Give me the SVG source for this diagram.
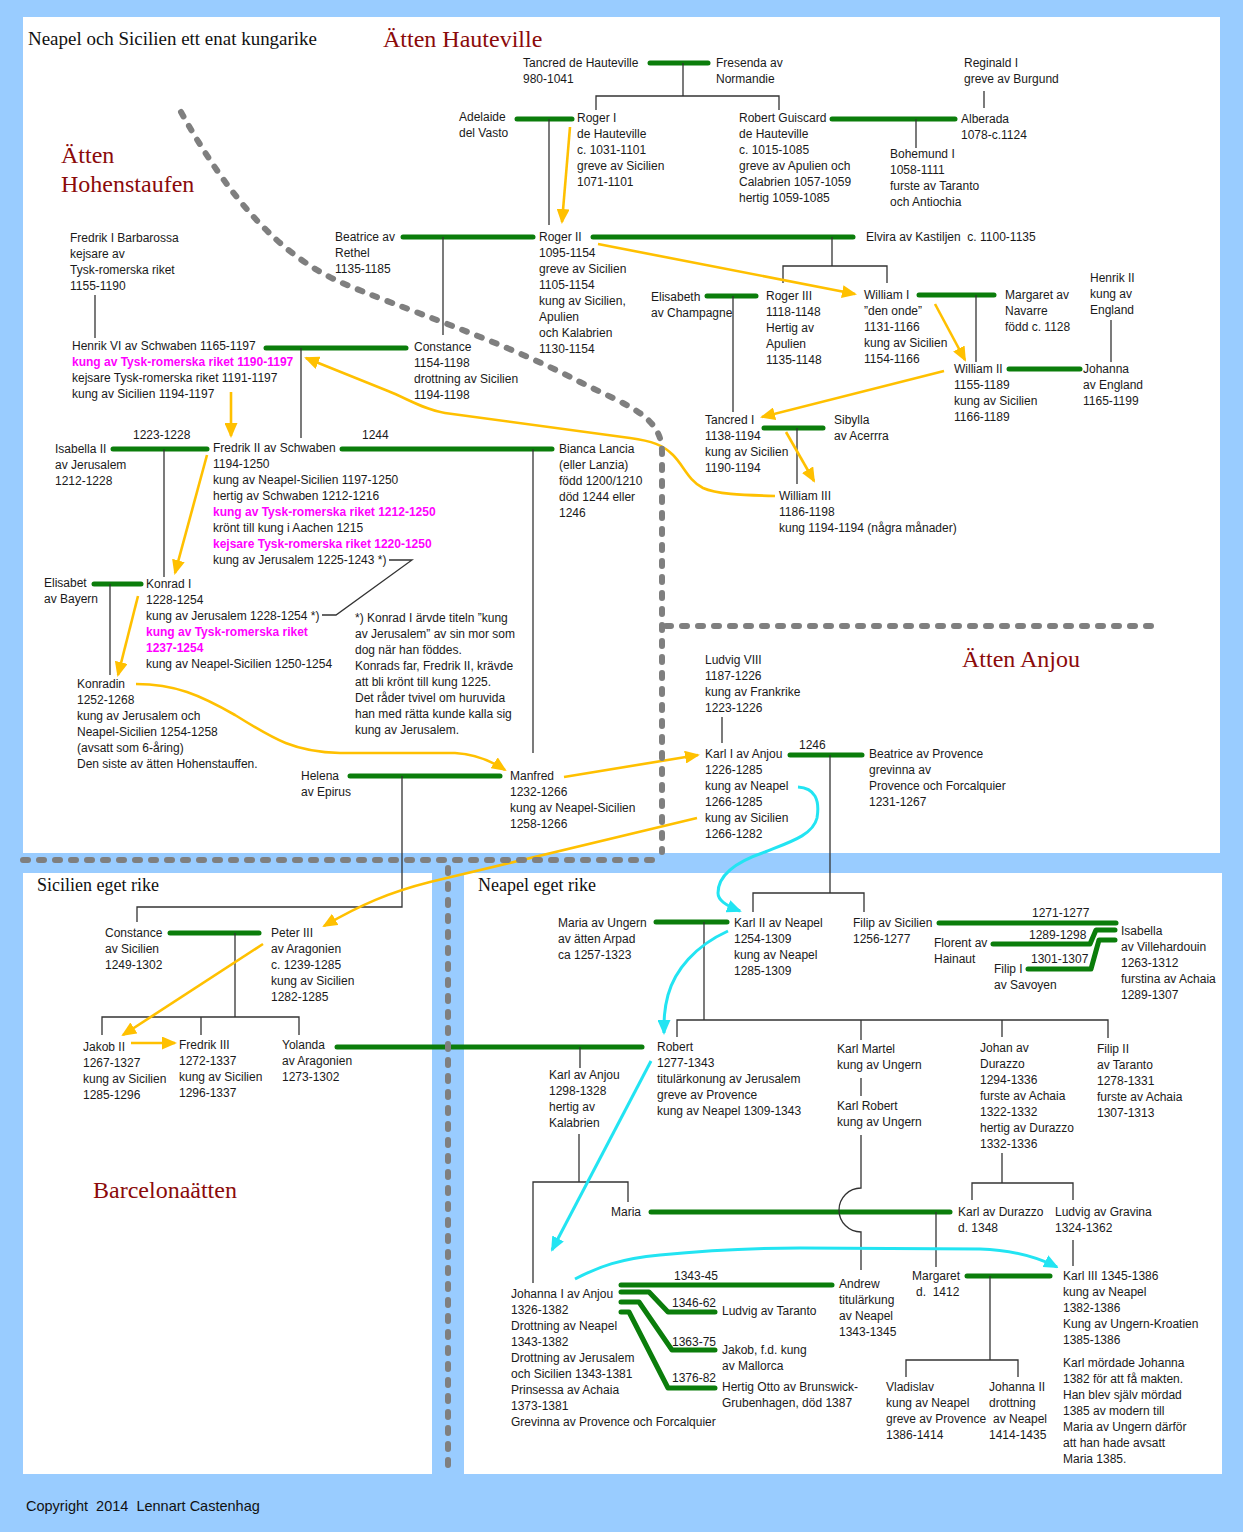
<svg xmlns="http://www.w3.org/2000/svg" width="1243" height="1532" viewBox="0 0 1243 1532">
<style>
.t{font-family:"Liberation Sans",Arial,sans-serif;font-size:12px;fill:#1a1a1a}
.m{fill:#ff00ff;font-weight:bold}
.h{font-family:"Liberation Serif","Times New Roman",serif;font-size:24px;fill:#8b0a0a}
.s{font-family:"Liberation Serif","Times New Roman",serif;font-size:18px;fill:#111}
.g{stroke:#0b7d0b;stroke-width:5;stroke-linecap:round;stroke-linejoin:round;fill:none}
.k{stroke:#333;stroke-width:1.3;fill:none}
.y{stroke:#ffc000;stroke-width:2.6;fill:none;marker-end:url(#ay)}
.c{stroke:#22e4f2;stroke-width:3;fill:none;marker-end:url(#ac)}
.d{stroke:#7f7f7f;stroke-width:6;stroke-linecap:round;stroke-dasharray:5 11;fill:none}
</style>
<defs>
<marker id="ay" viewBox="0 0 15 13" markerUnits="userSpaceOnUse" markerWidth="15" markerHeight="13" refX="13" refY="6.5" orient="auto"><path d="M0,0 L15,6.5 L0,13 z" fill="#ffc000"/></marker>
<marker id="ac" viewBox="0 0 15 13" markerUnits="userSpaceOnUse" markerWidth="15" markerHeight="13" refX="13" refY="6.5" orient="auto"><path d="M0,0 L15,6.5 L0,13 z" fill="#22e4f2"/></marker>
</defs>
<rect width="1243" height="1532" fill="#99ccff"/>
<rect x="23" y="17" width="1197" height="836" fill="#fff"/>
<rect x="23" y="873" width="409" height="601" fill="#fff"/>
<rect x="464" y="873" width="758" height="601" fill="#fff"/>

<g id="titles">
<text class="s" x="28" y="45" font-size="19" textLength="289" lengthAdjust="spacingAndGlyphs">Neapel och Sicilien ett enat kungarike</text>
<text class="h" x="383" y="47">Ätten Hauteville</text>
<text class="h" x="61" y="163">Ätten</text>
<text class="h" x="61" y="192">Hohenstaufen</text>
<text class="h" x="962" y="667">Ätten Anjou</text>
<text class="h" x="93" y="1198">Barcelonaätten</text>
<text class="s" x="37" y="891">Sicilien eget rike</text>
<text class="s" x="478" y="891">Neapel eget rike</text>
<text x="26" y="1511" xml:space="preserve" font-family="Liberation Sans, Arial, sans-serif" font-size="14.5" fill="#111">Copyright  2014  Lennart Castenhag</text>
</g>

<g id="connectors">
<g id="marriages">
<line class="g" x1="650" y1="63" x2="708" y2="63"/>
<line class="g" x1="517" y1="119" x2="572" y2="119"/>
<line class="g" x1="832" y1="119" x2="955" y2="119"/>
<line class="g" x1="403" y1="237" x2="533" y2="237"/>
<line class="g" x1="593" y1="237" x2="853" y2="237"/>
<line class="g" x1="707" y1="296" x2="756" y2="296"/>
<line class="g" x1="919" y1="295" x2="994" y2="295"/>
<line class="g" x1="1009" y1="369" x2="1080" y2="369"/>
<line class="g" x1="764" y1="428" x2="823" y2="428"/>
<line class="g" x1="266" y1="348" x2="406" y2="348"/>
<line class="g" x1="113" y1="449" x2="207" y2="449"/>
<line class="g" x1="342" y1="449" x2="552" y2="449"/>
<line class="g" x1="94" y1="584" x2="141" y2="584"/>
<line class="g" x1="350" y1="776" x2="500" y2="776"/>
<line class="g" x1="790" y1="755" x2="862" y2="755"/>
<line class="g" x1="656" y1="922" x2="727" y2="922"/>
<line class="g" x1="939" y1="923" x2="1116" y2="923"/>
<polyline class="g" points="993,944 1090,944 1096,930 1115,930"/>
<polyline class="g" points="1028,969 1091,969 1099,940 1115,940"/>
<line class="g" x1="170" y1="933" x2="259" y2="933"/>
<line class="g" x1="337" y1="1047" x2="642" y2="1047"/>
<line class="g" x1="651" y1="1212" x2="950" y2="1212"/>
<line class="g" x1="967" y1="1276" x2="1050" y2="1276"/>
<line class="g" x1="621" y1="1285" x2="832" y2="1285"/>
<polyline class="g" points="621,1292 649,1292 668,1312 715,1312"/>
<polyline class="g" points="621,1302 639,1302 672,1350 715,1350"/>
<polyline class="g" points="621,1312 629,1312 668,1388 715,1388"/>
</g>
<g id="descent">
<polyline class="k" points="683,63 683,96"/>
<polyline class="k" points="596,110 596,96 779,96 779,110"/>
<line class="k" x1="549" y1="119" x2="549" y2="225"/>
<line class="k" x1="984" y1="91" x2="984" y2="108"/>
<line class="k" x1="916" y1="119" x2="916" y2="148"/>
<line class="k" x1="443" y1="237" x2="443" y2="335"/>
<line class="k" x1="832" y1="237" x2="832" y2="266"/>
<polyline class="k" points="783,283 783,266 887,266 887,283"/>
<line class="k" x1="733" y1="296" x2="733" y2="412"/>
<line class="k" x1="976" y1="295" x2="976" y2="362"/>
<line class="k" x1="1111" y1="320" x2="1111" y2="362"/>
<line class="k" x1="797" y1="428" x2="797" y2="484"/>
<line class="k" x1="95" y1="295" x2="95" y2="338"/>
<line class="k" x1="301" y1="348" x2="301" y2="438"/>
<line class="k" x1="164" y1="449" x2="164" y2="577"/>
<line class="k" x1="533" y1="449" x2="533" y2="753"/>
<polyline class="k" points="389,560 412,560 336,615 322,615"/>
<line class="k" x1="110" y1="584" x2="110" y2="675"/>
<polyline class="k" points="402,776 402,907 137,907 137,922"/>
<line class="k" x1="722" y1="717" x2="722" y2="743"/>
<line class="k" x1="830" y1="755" x2="830" y2="893"/>
<polyline class="k" points="753,912 753,893 864,893 864,912"/>
<line class="k" x1="704" y1="922" x2="704" y2="1020"/>
<polyline class="k" points="677,1037 677,1020 1108,1020 1108,1038"/>
<line class="k" x1="861" y1="1020" x2="861" y2="1040"/>
<line class="k" x1="1002" y1="1020" x2="1002" y2="1037"/>
<line class="k" x1="861" y1="1078" x2="861" y2="1096"/>
<path class="k" d="M861 1135 V1188 A22 22 0 0 0 861 1232 V1270"/>
<line class="k" x1="1002" y1="1153" x2="1002" y2="1183"/>
<polyline class="k" points="972,1200 972,1183 1073,1183 1073,1200"/>
<line class="k" x1="235" y1="933" x2="235" y2="1017"/>
<polyline class="k" points="102,1035 102,1017 299,1017 299,1035"/>
<line class="k" x1="201" y1="1017" x2="201" y2="1035"/>
<line class="k" x1="580" y1="1047" x2="580" y2="1068"/>
<line class="k" x1="579" y1="1134" x2="579" y2="1182"/>
<polyline class="k" points="533,1283 533,1182 628,1182 628,1202"/>
<line class="k" x1="936" y1="1212" x2="936" y2="1267"/>
<line class="k" x1="1073" y1="1240" x2="1073" y2="1266"/>
<line class="k" x1="990" y1="1276" x2="990" y2="1360"/>
<polyline class="k" points="906,1377 906,1360 1018,1360 1018,1377"/>
</g>
<g id="labels" class="t">
<text x="133" y="439">1223-1228</text>
<text x="362" y="439">1244</text>
<text x="799" y="749">1246</text>
<text x="1032" y="917">1271-1277</text>
<text x="1029" y="939">1289-1298</text>
<text x="1031" y="963">1301-1307</text>
<text x="674" y="1280">1343-45</text>
<text x="672" y="1307">1346-62</text>
<text x="672" y="1346">1363-75</text>
<text x="672" y="1382">1376-82</text>
</g>
<g id="succession">
<line class="y" x1="570" y1="127" x2="562" y2="222"/>
<line class="y" x1="598" y1="244" x2="855" y2="294"/>
<line class="y" x1="935" y1="304" x2="965" y2="360"/>
<line class="y" x1="944" y1="371" x2="762" y2="417"/>
<line class="y" x1="786" y1="432" x2="814" y2="481"/>
<path class="y" d="M775 496 C740 495 716 494 703 488 C688 480 684 466 673 455 C663 445 652 441 630 438 L445 413 C425 410 408 399 388 391 L306 358"/>
<line class="y" x1="231" y1="392" x2="231" y2="436"/>
<line class="y" x1="207" y1="455" x2="175" y2="573"/>
<line class="y" x1="138" y1="596" x2="118" y2="675"/>
<path class="y" d="M136 684 C175 684 200 695 235 715 C275 740 295 752 340 753 L455 753 C475 754 490 760 505 770"/>
<line class="y" x1="564" y1="777" x2="698" y2="755"/>
<path class="y" d="M697 818 L430 882 C390 892 360 905 324 926"/>
<line class="y" x1="263" y1="944" x2="123" y2="1035"/>
<line class="y" x1="131" y1="1043" x2="175" y2="1043"/>
<path class="c" d="M798 787 C815 788 820 800 817 818 C813 835 790 842 765 852 C735 862 718 875 718 893 C718 900 725 905 740 911"/>
<path class="c" d="M728 931 C695 946 675 970 668 995 C664 1010 664 1020 664 1033"/>
<line class="c" x1="651" y1="1061" x2="552" y2="1250"/>
<path class="c" d="M575 1279 C600 1266 620 1259 660 1255 C700 1251 740 1248 800 1248 L980 1249 C1010 1250 1035 1256 1057 1267"/>
</g>
<g id="borders">
<path class="d" d="M181 112 C230 200 280 255 340 282 C400 308 500 340 580 382 C625 405 662 415 662 452 L662 852"/>
<line class="d" x1="666" y1="626" x2="1157" y2="626"/>
<line class="d" x1="23" y1="860" x2="662" y2="860"/>
<line class="d" x1="448" y1="868" x2="448" y2="1467"/>
</g>
</g>

<g id="n-tancred"><text class="t" x="523" y="67">Tancred de Hauteville<tspan x="523" dy="16">980-1041</tspan></text></g>
<g id="n-fresenda"><text class="t" x="716" y="67">Fresenda av<tspan x="716" dy="16">Normandie</tspan></text></g>
<g id="n-adelaide"><text class="t" x="459" y="121">Adelaide<tspan x="459" dy="16">del Vasto</tspan></text></g>
<g id="n-roger1"><text class="t" x="577" y="122">Roger I<tspan x="577" dy="16">de Hauteville</tspan><tspan x="577" dy="16">c. 1031-1101</tspan><tspan x="577" dy="16">greve av Sicilien</tspan><tspan x="577" dy="16">1071-1101</tspan></text></g>
<g id="n-robert-guiscard"><text class="t" x="739" y="122">Robert Guiscard<tspan x="739" dy="16">de Hauteville</tspan><tspan x="739" dy="16">c. 1015-1085</tspan><tspan x="739" dy="16">greve av Apulien och</tspan><tspan x="739" dy="16">Calabrien 1057-1059</tspan><tspan x="739" dy="16">hertig 1059-1085</tspan></text></g>
<g id="n-alberada"><text class="t" x="961" y="123">Alberada<tspan x="961" dy="16">1078-c.1124</tspan></text></g>
<g id="n-reginald"><text class="t" x="964" y="67">Reginald I<tspan x="964" dy="16">greve av Burgund</tspan></text></g>
<g id="n-bohemund"><text class="t" x="890" y="158">Bohemund I<tspan x="890" dy="16">1058-1111</tspan><tspan x="890" dy="16">furste av Taranto</tspan><tspan x="890" dy="16">och Antiochia</tspan></text></g>
<g id="n-roger2"><text class="t" x="539" y="241">Roger II<tspan x="539" dy="16">1095-1154</tspan><tspan x="539" dy="16">greve av Sicilien</tspan><tspan x="539" dy="16">1105-1154</tspan><tspan x="539" dy="16">kung av Sicilien,</tspan><tspan x="539" dy="16">Apulien</tspan><tspan x="539" dy="16">och Kalabrien</tspan><tspan x="539" dy="16">1130-1154</tspan></text></g>
<g id="n-beatrice-rethel"><text class="t" x="335" y="241">Beatrice av<tspan x="335" dy="16">Rethel</tspan><tspan x="335" dy="16">1135-1185</tspan></text></g>
<g id="n-elvira"><text class="t" x="866" y="241" xml:space="preserve">Elvira av Kastiljen  c. 1100-1135</text></g>
<g id="n-elisabeth"><text class="t" x="651" y="301">Elisabeth<tspan x="651" dy="16">av Champagne</tspan></text></g>
<g id="n-roger3"><text class="t" x="766" y="300">Roger III<tspan x="766" dy="16">1118-1148</tspan><tspan x="766" dy="16">Hertig av</tspan><tspan x="766" dy="16">Apulien</tspan><tspan x="766" dy="16">1135-1148</tspan></text></g>
<g id="n-william1"><text class="t" x="864" y="299">William I<tspan x="864" dy="16">”den onde”</tspan><tspan x="864" dy="16">1131-1166</tspan><tspan x="864" dy="16">kung av Sicilien</tspan><tspan x="864" dy="16">1154-1166</tspan></text></g>
<g id="n-margaret-navarre"><text class="t" x="1005" y="299">Margaret av<tspan x="1005" dy="16">Navarre</tspan><tspan x="1005" dy="16">född c. 1128</tspan></text></g>
<g id="n-henrik2"><text class="t" x="1090" y="282">Henrik II<tspan x="1090" dy="16">kung av</tspan><tspan x="1090" dy="16">England</tspan></text></g>
<g id="n-william2"><text class="t" x="954" y="373">William II<tspan x="954" dy="16">1155-1189</tspan><tspan x="954" dy="16">kung av Sicilien</tspan><tspan x="954" dy="16">1166-1189</tspan></text></g>
<g id="n-johanna-england"><text class="t" x="1083" y="373">Johanna<tspan x="1083" dy="16">av England</tspan><tspan x="1083" dy="16">1165-1199</tspan></text></g>
<g id="n-tancred1"><text class="t" x="705" y="424">Tancred I<tspan x="705" dy="16">1138-1194</tspan><tspan x="705" dy="16">kung av Sicilien</tspan><tspan x="705" dy="16">1190-1194</tspan></text></g>
<g id="n-sibylla"><text class="t" x="834" y="424">Sibylla<tspan x="834" dy="16">av Acerrra</tspan></text></g>
<g id="n-william3"><text class="t" x="779" y="500">William III<tspan x="779" dy="16">1186-1198</tspan><tspan x="779" dy="16">kung 1194-1194 (några månader)</tspan></text></g>
<g id="n-barbarossa"><text class="t" x="70" y="242">Fredrik I Barbarossa<tspan x="70" dy="16">kejsare av</tspan><tspan x="70" dy="16">Tysk-romerska riket</tspan><tspan x="70" dy="16">1155-1190</tspan></text></g>
<g id="n-henrik6"><text class="t" x="72" y="350">Henrik VI av Schwaben 1165-1197<tspan x="72" dy="16" class="m">kung av Tysk-romerska riket 1190-1197</tspan><tspan x="72" dy="16">kejsare Tysk-romerska riket 1191-1197</tspan><tspan x="72" dy="16">kung av Sicilien 1194-1197</tspan></text></g>
<g id="n-constance"><text class="t" x="414" y="351">Constance<tspan x="414" dy="16">1154-1198</tspan><tspan x="414" dy="16">drottning av Sicilien</tspan><tspan x="414" dy="16">1194-1198</tspan></text></g>
<g id="n-isabella2"><text class="t" x="55" y="453">Isabella II<tspan x="55" dy="16">av Jerusalem</tspan><tspan x="55" dy="16">1212-1228</tspan></text></g>
<g id="n-fredrik2"><text class="t" x="213" y="452">Fredrik II av Schwaben<tspan x="213" dy="16">1194-1250</tspan><tspan x="213" dy="16">kung av Neapel-Sicilien 1197-1250</tspan><tspan x="213" dy="16">hertig av Schwaben 1212-1216</tspan><tspan x="213" dy="16" class="m">kung av Tysk-romerska riket 1212-1250</tspan><tspan x="213" dy="16">krönt till kung i Aachen 1215</tspan><tspan x="213" dy="16" class="m">kejsare Tysk-romerska riket 1220-1250</tspan><tspan x="213" dy="16">kung av Jerusalem 1225-1243 *)</tspan></text></g>
<g id="n-bianca"><text class="t" x="559" y="453">Bianca Lancia<tspan x="559" dy="16">(eller Lanzia)</tspan><tspan x="559" dy="16">född 1200/1210</tspan><tspan x="559" dy="16">död 1244 eller</tspan><tspan x="559" dy="16">1246</tspan></text></g>
<g id="n-elisabet-bayern"><text class="t" x="44" y="587">Elisabet<tspan x="44" dy="16">av Bayern</tspan></text></g>
<g id="n-konrad1"><text class="t" x="146" y="588">Konrad I<tspan x="146" dy="16">1228-1254</tspan><tspan x="146" dy="16">kung av Jerusalem 1228-1254 *)</tspan><tspan x="146" dy="16" class="m">kung av Tysk-romerska riket</tspan><tspan x="146" dy="16" class="m">1237-1254</tspan><tspan x="146" dy="16">kung av Neapel-Sicilien 1250-1254</tspan></text></g>
<g id="n-footnote"><text class="t" x="355" y="622">*) Konrad I ärvde titeln ”kung<tspan x="355" dy="16">av Jerusalem” av sin mor som</tspan><tspan x="355" dy="16">dog när han föddes.</tspan><tspan x="355" dy="16">Konrads far, Fredrik II, krävde</tspan><tspan x="355" dy="16">att bli krönt till kung 1225.</tspan><tspan x="355" dy="16">Det råder tvivel om huruvida</tspan><tspan x="355" dy="16">han med rätta kunde kalla sig</tspan><tspan x="355" dy="16">kung av Jerusalem.</tspan></text></g>
<g id="n-konradin"><text class="t" x="77" y="688">Konradin<tspan x="77" dy="16">1252-1268</tspan><tspan x="77" dy="16">kung av Jerusalem och</tspan><tspan x="77" dy="16">Neapel-Sicilien 1254-1258</tspan><tspan x="77" dy="16">(avsatt som 6-åring)</tspan><tspan x="77" dy="16">Den siste av ätten Hohenstauffen.</tspan></text></g>
<g id="n-helena"><text class="t" x="301" y="780">Helena<tspan x="301" dy="16">av Epirus</tspan></text></g>
<g id="n-manfred"><text class="t" x="510" y="780">Manfred<tspan x="510" dy="16">1232-1266</tspan><tspan x="510" dy="16">kung av Neapel-Sicilien</tspan><tspan x="510" dy="16">1258-1266</tspan></text></g>
<g id="n-ludvig8"><text class="t" x="705" y="664">Ludvig VIII<tspan x="705" dy="16">1187-1226</tspan><tspan x="705" dy="16">kung av Frankrike</tspan><tspan x="705" dy="16">1223-1226</tspan></text></g>
<g id="n-karl1"><text class="t" x="705" y="758">Karl I av Anjou<tspan x="705" dy="16">1226-1285</tspan><tspan x="705" dy="16">kung av Neapel</tspan><tspan x="705" dy="16">1266-1285</tspan><tspan x="705" dy="16">kung av Sicilien</tspan><tspan x="705" dy="16">1266-1282</tspan></text></g>
<g id="n-beatrice-provence"><text class="t" x="869" y="758">Beatrice av Provence<tspan x="869" dy="16">grevinna av</tspan><tspan x="869" dy="16">Provence och Forcalquier</tspan><tspan x="869" dy="16">1231-1267</tspan></text></g>
<g id="n-constance-sicilien"><text class="t" x="105" y="937">Constance<tspan x="105" dy="16">av Sicilien</tspan><tspan x="105" dy="16">1249-1302</tspan></text></g>
<g id="n-peter3"><text class="t" x="271" y="937">Peter III<tspan x="271" dy="16">av Aragonien</tspan><tspan x="271" dy="16">c. 1239-1285</tspan><tspan x="271" dy="16">kung av Sicilien</tspan><tspan x="271" dy="16">1282-1285</tspan></text></g>
<g id="n-jakob2"><text class="t" x="83" y="1051">Jakob II<tspan x="83" dy="16">1267-1327</tspan><tspan x="83" dy="16">kung av Sicilien</tspan><tspan x="83" dy="16">1285-1296</tspan></text></g>
<g id="n-fredrik3"><text class="t" x="179" y="1049">Fredrik III<tspan x="179" dy="16">1272-1337</tspan><tspan x="179" dy="16">kung av Sicilien</tspan><tspan x="179" dy="16">1296-1337</tspan></text></g>
<g id="n-yolanda"><text class="t" x="282" y="1049">Yolanda<tspan x="282" dy="16">av Aragonien</tspan><tspan x="282" dy="16">1273-1302</tspan></text></g>
<g id="n-maria-ungern"><text class="t" x="558" y="927">Maria av Ungern<tspan x="558" dy="16">av ätten Arpad</tspan><tspan x="558" dy="16">ca 1257-1323</tspan></text></g>
<g id="n-karl2"><text class="t" x="734" y="927">Karl II av Neapel<tspan x="734" dy="16">1254-1309</tspan><tspan x="734" dy="16">kung av Neapel</tspan><tspan x="734" dy="16">1285-1309</tspan></text></g>
<g id="n-filip-sicilien"><text class="t" x="853" y="927">Filip av Sicilien<tspan x="853" dy="16">1256-1277</tspan></text></g>
<g id="n-florent"><text class="t" x="934" y="947">Florent av<tspan x="934" dy="16">Hainaut</tspan></text></g>
<g id="n-filip1"><text class="t" x="994" y="973">Filip I<tspan x="994" dy="16">av Savoyen</tspan></text></g>
<g id="n-isabella-villehardouin"><text class="t" x="1121" y="935">Isabella<tspan x="1121" dy="16">av Villehardouin</tspan><tspan x="1121" dy="16">1263-1312</tspan><tspan x="1121" dy="16">furstina av Achaia</tspan><tspan x="1121" dy="16">1289-1307</tspan></text></g>
<g id="n-robert"><text class="t" x="657" y="1051">Robert<tspan x="657" dy="16">1277-1343</tspan><tspan x="657" dy="16">titulärkonung av Jerusalem</tspan><tspan x="657" dy="16">greve av Provence</tspan><tspan x="657" dy="16">kung av Neapel 1309-1343</tspan></text></g>
<g id="n-karl-martel"><text class="t" x="837" y="1053">Karl Martel<tspan x="837" dy="16">kung av Ungern</tspan></text></g>
<g id="n-karl-robert"><text class="t" x="837" y="1110">Karl Robert<tspan x="837" dy="16">kung av Ungern</tspan></text></g>
<g id="n-johan-durazzo"><text class="t" x="980" y="1052">Johan av<tspan x="980" dy="16">Durazzo</tspan><tspan x="980" dy="16">1294-1336</tspan><tspan x="980" dy="16">furste av Achaia</tspan><tspan x="980" dy="16">1322-1332</tspan><tspan x="980" dy="16">hertig av Durazzo</tspan><tspan x="980" dy="16">1332-1336</tspan></text></g>
<g id="n-filip2"><text class="t" x="1097" y="1053">Filip II<tspan x="1097" dy="16">av Taranto</tspan><tspan x="1097" dy="16">1278-1331</tspan><tspan x="1097" dy="16">furste av Achaia</tspan><tspan x="1097" dy="16">1307-1313</tspan></text></g>
<g id="n-karl-anjou"><text class="t" x="549" y="1079">Karl av Anjou<tspan x="549" dy="16">1298-1328</tspan><tspan x="549" dy="16">hertig av</tspan><tspan x="549" dy="16">Kalabrien</tspan></text></g>
<g id="n-maria"><text class="t" x="611" y="1216">Maria</text></g>
<g id="n-karl-durazzo"><text class="t" x="958" y="1216">Karl av Durazzo<tspan x="958" dy="16">d. 1348</tspan></text></g>
<g id="n-ludvig-gravina"><text class="t" x="1055" y="1216">Ludvig av Gravina<tspan x="1055" dy="16">1324-1362</tspan></text></g>
<g id="n-johanna1"><text class="t" x="511" y="1298">Johanna I av Anjou<tspan x="511" dy="16">1326-1382</tspan><tspan x="511" dy="16">Drottning av Neapel</tspan><tspan x="511" dy="16">1343-1382</tspan><tspan x="511" dy="16">Drottning av Jerusalem</tspan><tspan x="511" dy="16">och Sicilien 1343-1381</tspan><tspan x="511" dy="16">Prinsessa av Achaia</tspan><tspan x="511" dy="16">1373-1381</tspan><tspan x="511" dy="16">Grevinna av Provence och Forcalquier</tspan></text></g>
<g id="n-andrew"><text class="t" x="839" y="1288">Andrew<tspan x="839" dy="16">titulärkung</tspan><tspan x="839" dy="16">av Neapel</tspan><tspan x="839" dy="16">1343-1345</tspan></text></g>
<g id="n-ludvig-taranto"><text class="t" x="722" y="1315">Ludvig av Taranto</text></g>
<g id="n-jakob-mallorca"><text class="t" x="722" y="1354">Jakob, f.d. kung<tspan x="722" dy="16">av Mallorca</tspan></text></g>
<g id="n-otto"><text class="t" x="722" y="1391">Hertig Otto av Brunswick-<tspan x="722" dy="16">Grubenhagen, död 1387</tspan></text></g>
<g id="n-margaret"><text class="t" x="912" y="1280">Margaret<tspan x="916" dy="16" xml:space="preserve">d.  1412</tspan></text></g>
<g id="n-karl3"><text class="t" x="1063" y="1280">Karl III 1345-1386<tspan x="1063" dy="16">kung av Neapel</tspan><tspan x="1063" dy="16">1382-1386</tspan><tspan x="1063" dy="16">Kung av Ungern-Kroatien</tspan><tspan x="1063" dy="16">1385-1386</tspan></text></g>
<g id="n-karl3-note"><text class="t" x="1063" y="1367">Karl mördade Johanna<tspan x="1063" dy="16">1382 för att få makten.</tspan><tspan x="1063" dy="16">Han blev själv mördad</tspan><tspan x="1063" dy="16">1385 av modern till</tspan><tspan x="1063" dy="16">Maria av Ungern därför</tspan><tspan x="1063" dy="16">att han hade avsatt</tspan><tspan x="1063" dy="16">Maria 1385.</tspan></text></g>
<g id="n-vladislav"><text class="t" x="886" y="1391">Vladislav<tspan x="886" dy="16">kung av Neapel</tspan><tspan x="886" dy="16">greve av Provence</tspan><tspan x="886" dy="16">1386-1414</tspan></text></g>
<g id="n-johanna2"><text class="t" x="989" y="1391">Johanna II<tspan x="989" dy="16">drottning</tspan><tspan x="993" dy="16">av Neapel</tspan><tspan x="989" dy="16">1414-1435</tspan></text></g>
</svg>
